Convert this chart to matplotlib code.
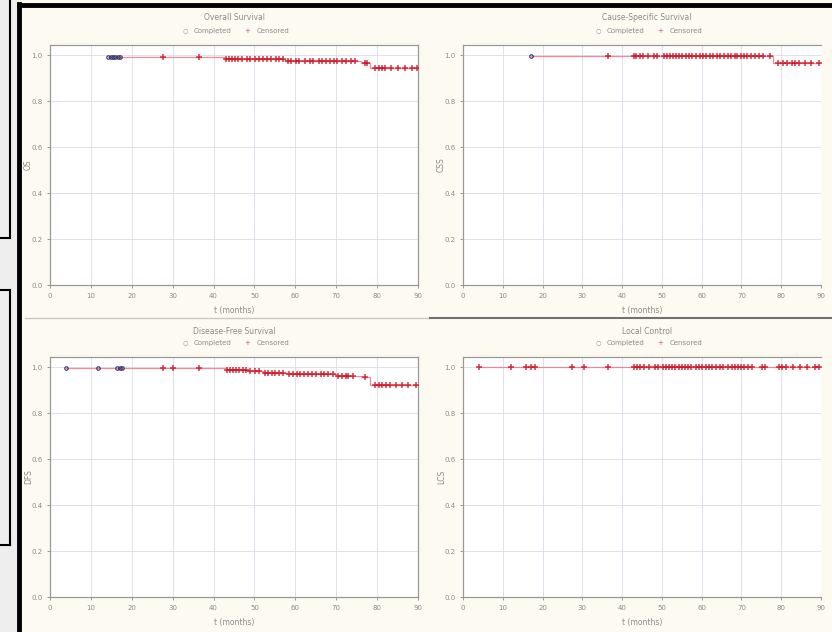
import numpy as np
import matplotlib.pyplot as plt
from matplotlib.lines import Line2D

# survival curves: step times and level after each step
os_step_t = [0, 42.5, 57.5, 76.0, 78.2]
os_step_s = [0.993, 0.986, 0.977, 0.968, 0.944]
os_comp_t = [14.3, 14.8, 15.4, 16.0, 16.6, 17.2]
os_cens_t = [27.6, 36.4, 43.0, 43.8, 44.5, 45.2, 46.0, 47.0, 48.1, 49.0, 50.2, 51.0,
             52.0, 53.1, 54.0, 55.2, 56.0, 57.0, 58.2, 59.0, 60.1, 61.0, 62.3, 63.5,
             64.2, 65.8, 66.6, 67.5, 68.4, 69.5, 70.3, 71.4, 72.5, 73.6, 74.5, 77.0,
             77.6, 79.5, 80.5, 81.2, 82.0, 83.5, 85.0, 86.8, 88.5, 89.8]

css_step_t = [0, 78.0]
css_step_s = [0.995, 0.965]
css_comp_t = [17.0]
css_cens_t = [36.4, 43.0, 43.6, 44.4, 45.3, 46.5, 48.0, 48.8, 50.5, 51.2, 52.0, 52.8,
              53.5, 54.3, 55.1, 56.0, 56.8, 57.5, 58.6, 59.5, 60.4, 61.2, 62.0, 62.9,
              63.8, 64.5, 65.5, 66.6, 67.4, 68.3, 69.0, 69.8, 70.6, 71.5, 72.4, 73.5,
              74.5, 75.3, 77.3, 79.2, 80.4, 81.5, 82.6, 83.4, 84.5, 86.0, 87.5, 89.5]

dfs_step_t = [0, 43.0, 48.5, 52.0, 58.0, 70.0, 76.0, 78.2]
dfs_step_s = [0.995, 0.99, 0.982, 0.976, 0.972, 0.962, 0.956, 0.924]
dfs_comp_t = [3.9, 11.7, 16.4, 17.0, 17.6]
dfs_cens_t = [27.6, 30.0, 36.4, 43.2, 44.0, 44.8, 45.5, 46.3, 47.2, 48.0, 49.0, 50.2,
              51.0, 52.5, 53.4, 54.2, 55.0, 56.0, 57.0, 58.5, 59.4, 60.3, 61.2, 62.0,
              63.0, 64.1, 65.0, 66.2, 67.0, 68.0, 69.2, 70.5, 71.4, 72.3, 73.0, 74.2,
              77.0, 79.4, 80.4, 81.3, 82.2, 83.2, 84.5, 86.0, 87.5, 89.5]

lcs_step_t = [0]
lcs_step_s = [1.0]
lcs_comp_t = []
lcs_cens_t = [4.0, 12.0, 15.8, 17.0, 18.2, 27.5, 30.5, 36.4, 43.0, 43.8, 44.6, 45.5,
              46.8, 48.2, 49.0, 50.2, 51.0, 51.8, 52.6, 53.4, 54.2, 55.0, 55.8, 56.6,
              57.4, 58.6, 59.4, 60.2, 61.0, 61.8, 62.6, 63.6, 64.6, 65.4, 66.6, 67.5,
              68.3, 69.1, 69.9, 70.7, 71.6, 72.6, 75.2, 76.0, 79.5, 80.3, 81.2, 83.0,
              84.8, 86.6, 88.4, 89.6]

titles = ["Overall Survival", "Cause-Specific Survival", "Disease-Free Survival", "Local Control"]
ylabels = ["OS", "CSS", "DFS", "LCS"]
xticks = [0, 10, 20, 30, 40, 50, 60, 70, 80, 90]
yticks = [0.0, 0.2, 0.4, 0.6, 0.8, 1.0]

panels = [
    (os_step_t, os_step_s, os_comp_t, os_cens_t),
    (css_step_t, css_step_s, css_comp_t, css_cens_t),
    (dfs_step_t, dfs_step_s, dfs_comp_t, dfs_cens_t),
    (lcs_step_t, lcs_step_s, lcs_comp_t, lcs_cens_t),
]

bg = "#fdfaf1"
txt = "#8a8a8a"
fig = plt.figure(figsize=(8.32, 6.32), dpi=100, facecolor=bg)

# axes rectangles in pixels (left, top, width, height)
W, H = 832, 632
boxes = [
    (50, 45, 368, 240),
    (463, 45, 358, 240),
    (50, 357, 368, 240),
    (463, 357, 358, 240),
]

def surv_at(t, step_t, step_s):
    idx = np.searchsorted(step_t, t, side="right") - 1
    return np.array(step_s)[idx]

for i, (box, data) in enumerate(zip(boxes, panels)):
    x0, y0, w, h = box
    ax = fig.add_axes([x0 / W, 1 - (y0 + h) / H, w / W, h / H])
    step_t, step_s, comp_t, cens_t = data
    start = min(list(comp_t) + list(cens_t))
    lt = np.array(list(step_t) + [90], dtype=float)
    ls = np.array(list(step_s) + [step_s[-1]], dtype=float)
    lt[0] = start
    ax.step(lt, ls, where="post", color="#f07080", lw=0.9, alpha=0.8, zorder=2)
    if len(comp_t):
        ax.plot(comp_t, surv_at(comp_t, step_t, step_s), "o", ms=2.5, mfc="none",
                mec="#303070", mew=0.8, zorder=3)
    ax.plot(cens_t, surv_at(cens_t, step_t, step_s), "+", ms=4, color="#d01020",
            mew=1.1, alpha=0.85, zorder=3)

    ax.set_xlim(0, 90)
    ax.set_ylim(0, 1.045)
    ax.set_xticks(xticks)
    ax.set_yticks(yticks)
    ax.set_yticklabels([f"{v:.1f}" for v in yticks])
    ax.grid(True, color="#dcdce8", lw=0.6)
    ax.set_axisbelow(True)
    ax.tick_params(labelsize=5, colors=txt, length=2, width=0.6)
    for s in ax.spines.values():
        s.set_color("#999999")
        s.set_linewidth(0.9)
    if i % 2 == 1:
        # right panels run off the screenshot edge
        ax.spines["right"].set_visible(False)
    ax.set_ylabel(ylabels[i], fontsize=5.5, color=txt)
    ax.yaxis.set_label_coords(-17 / w, 0.5)
    ax.set_xlabel("t (months)", fontsize=5.5, color=txt, labelpad=5)
    # title and legend text above the plot
    cx = (x0 + 184) / W
    fig.text(cx, 1 - 18 / H if i < 2 else 1 - 331 / H, titles[i], ha="center",
             va="center", fontsize=5.5, color=txt)
    ly = 1 - 31 / H if i < 2 else 1 - 343 / H
    fig.text(cx - 0.058, ly, "○", ha="center", va="center", fontsize=4.5, color="#9090a8")
    fig.text(cx - 0.026, ly, "Completed", ha="center", va="center", fontsize=5, color=txt)
    fig.text(cx + 0.016, ly, "+", ha="center", va="center", fontsize=5, color="#c06070")
    fig.text(cx + 0.047, ly, "Censored", ha="center", va="center", fontsize=5, color=txt)

# separator between rows
fig.add_artist(Line2D([25 / W, 430 / W], [1 - 318 / H] * 2, color="#c8c8c0", lw=1.0))
fig.add_artist(Line2D([430 / W, 1], [1 - 318 / H] * 2, color="#707070", lw=1.5))

# left strip of the screenshot
fig.add_artist(plt.Rectangle((0, 0), 17 / W, 1, color="#eeeeee", zorder=0))
fig.add_artist(Line2D([10 / W] * 2, [1, 1 - 238 / H], color="black", lw=1.5))
fig.add_artist(Line2D([0, 10 / W], [1 - 238 / H] * 2, color="black", lw=1.5))
fig.add_artist(Line2D([0, 10 / W], [1 - 290 / H] * 2, color="black", lw=1.5))
fig.add_artist(Line2D([10 / W] * 2, [1 - 290 / H, 1 - 545 / H], color="black", lw=1.5))
fig.add_artist(Line2D([0, 10 / W], [1 - 545 / H] * 2, color="black", lw=1.5))

# black frame
fig.add_artist(Line2D([19 / W, 1], [1 - 5 / H] * 2, color="black", lw=3.5))
fig.add_artist(Line2D([19 / W] * 2, [1 - 4 / H, 0], color="black", lw=3.5))

fig.savefig("out.png", dpi=100, facecolor=bg)
